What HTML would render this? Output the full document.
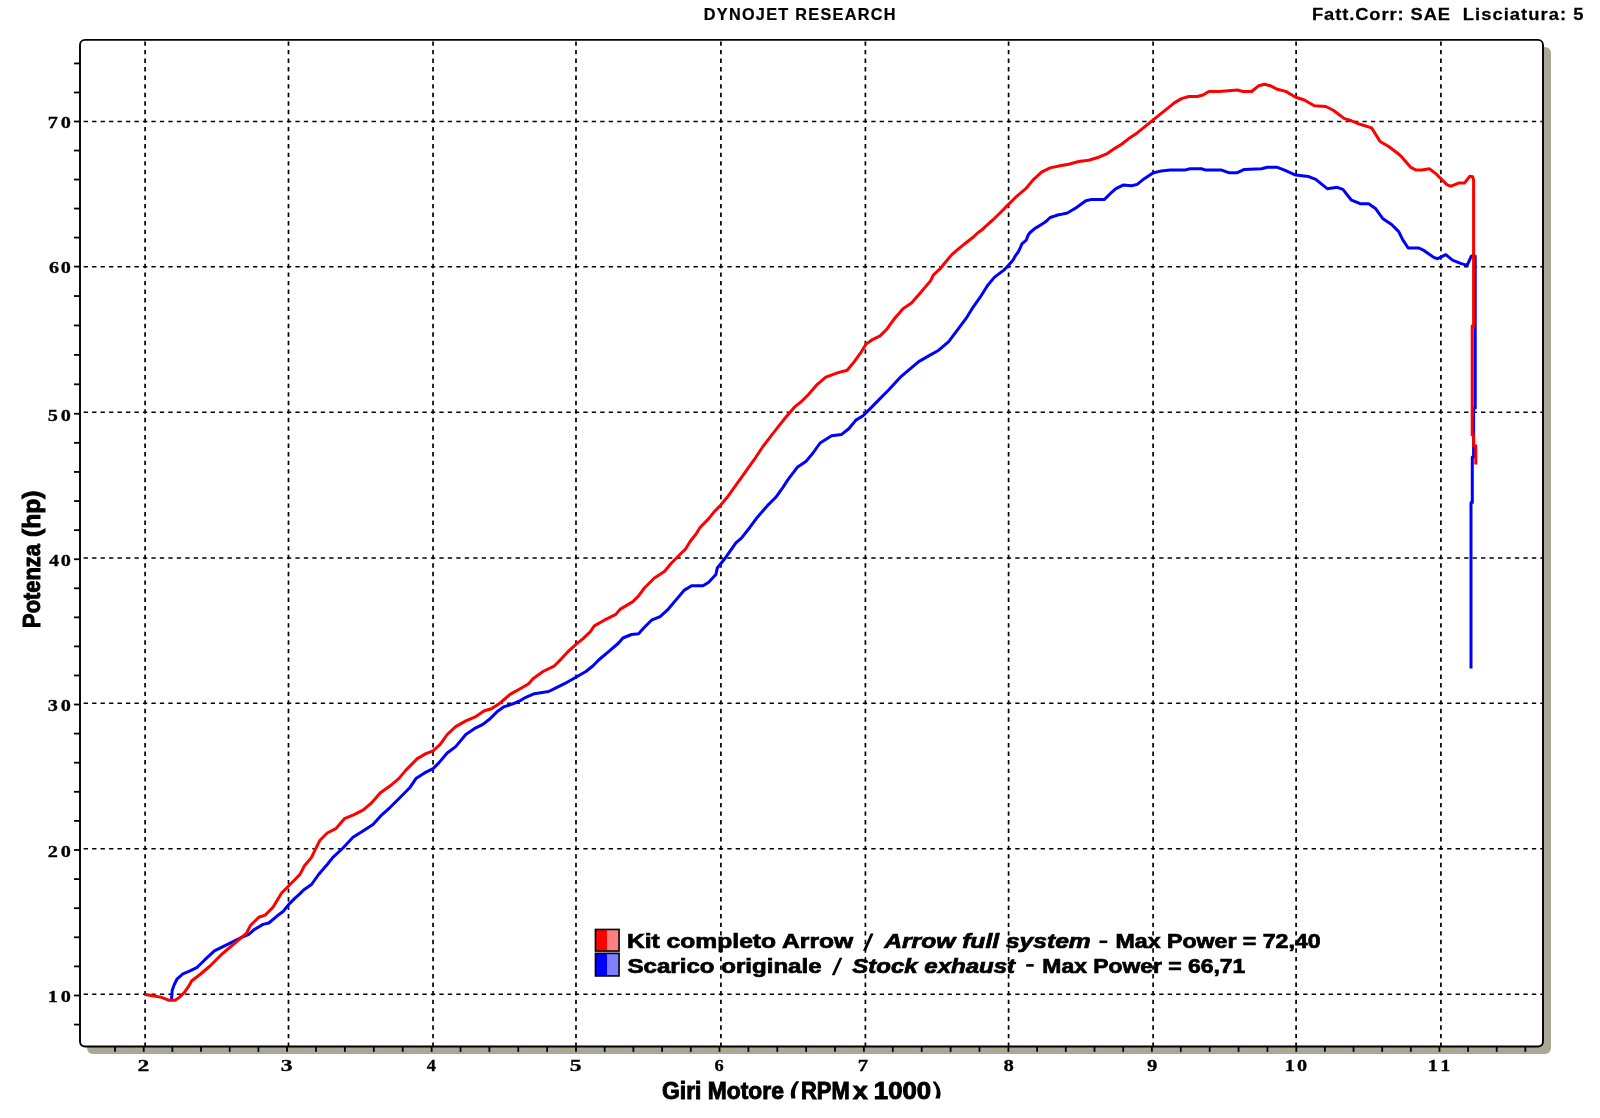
<!DOCTYPE html>
<html><head><meta charset="utf-8"><title>Dynojet chart</title>
<style>
html,body{margin:0;padding:0;background:#fff;}
body{width:1600px;height:1118px;overflow:hidden;font-family:"Liberation Sans",sans-serif;}
svg{display:block;will-change:transform;}
</style></head>
<body>
<svg width="1600" height="1118" viewBox="0 0 1600 1118">
<rect x="87" y="47" width="1464" height="1007" rx="6" fill="#aaa796"/>
<rect x="80" y="39.9" width="1463" height="1006.6" rx="5" fill="#fff"/>
<g stroke="#000" stroke-width="1.7" stroke-dasharray="4.4 4.156"><line x1="145.10" y1="41.40" x2="145.10" y2="1046" /><line x1="288.50" y1="41.40" x2="288.50" y2="1046" /><line x1="433.05" y1="41.40" x2="433.05" y2="1046" /><line x1="576.00" y1="41.40" x2="576.00" y2="1046" /><line x1="720.90" y1="41.40" x2="720.90" y2="1046" /><line x1="865.40" y1="41.40" x2="865.40" y2="1046" /><line x1="1008.60" y1="41.40" x2="1008.60" y2="1046" /><line x1="1153.10" y1="41.40" x2="1153.10" y2="1046" /><line x1="1296.10" y1="41.40" x2="1296.10" y2="1046" /><line x1="1440.90" y1="41.40" x2="1440.90" y2="1046" /></g>
<g stroke="#000" stroke-width="1.6" stroke-dasharray="4.3 4.169"><line x1="83.66" y1="994.20" x2="1542" y2="994.20" /><line x1="83.66" y1="848.75" x2="1542" y2="848.75" /><line x1="83.66" y1="703.25" x2="1542" y2="703.25" /><line x1="83.66" y1="558.00" x2="1542" y2="558.00" /><line x1="83.66" y1="412.30" x2="1542" y2="412.30" /><line x1="83.66" y1="266.70" x2="1542" y2="266.70" /><line x1="83.66" y1="121.50" x2="1542" y2="121.50" /></g>
<rect x="80" y="39.9" width="1463" height="1006.6" rx="5" fill="none" stroke="#000" stroke-width="1.9"/>
<g stroke="#000" stroke-width="1.8"><line x1="74" y1="1024.60" x2="80" y2="1024.60"/><line x1="74" y1="995.50" x2="80" y2="995.50"/><line x1="74" y1="966.40" x2="80" y2="966.40"/><line x1="74" y1="937.30" x2="80" y2="937.30"/><line x1="74" y1="908.20" x2="80" y2="908.20"/><line x1="74" y1="879.10" x2="80" y2="879.10"/><line x1="74" y1="850.00" x2="80" y2="850.00"/><line x1="74" y1="820.90" x2="80" y2="820.90"/><line x1="74" y1="791.80" x2="80" y2="791.80"/><line x1="74" y1="762.70" x2="80" y2="762.70"/><line x1="74" y1="733.60" x2="80" y2="733.60"/><line x1="74" y1="704.50" x2="80" y2="704.50"/><line x1="74" y1="675.45" x2="80" y2="675.45"/><line x1="74" y1="646.40" x2="80" y2="646.40"/><line x1="74" y1="617.35" x2="80" y2="617.35"/><line x1="74" y1="588.30" x2="80" y2="588.30"/><line x1="74" y1="559.25" x2="80" y2="559.25"/><line x1="74" y1="530.15" x2="80" y2="530.15"/><line x1="74" y1="501.05" x2="80" y2="501.05"/><line x1="74" y1="471.95" x2="80" y2="471.95"/><line x1="74" y1="442.85" x2="80" y2="442.85"/><line x1="74" y1="413.75" x2="80" y2="413.75"/><line x1="74" y1="384.32" x2="80" y2="384.32"/><line x1="74" y1="354.89" x2="80" y2="354.89"/><line x1="74" y1="325.46" x2="80" y2="325.46"/><line x1="74" y1="296.03" x2="80" y2="296.03"/><line x1="74" y1="266.60" x2="80" y2="266.60"/><line x1="74" y1="237.58" x2="80" y2="237.58"/><line x1="74" y1="208.56" x2="80" y2="208.56"/><line x1="74" y1="179.54" x2="80" y2="179.54"/><line x1="74" y1="150.52" x2="80" y2="150.52"/><line x1="74" y1="121.50" x2="80" y2="121.50"/><line x1="74" y1="92.48" x2="80" y2="92.48"/><line x1="74" y1="63.46" x2="80" y2="63.46"/></g>
<g stroke="#000" stroke-width="1.8"><line x1="115.03" y1="1047" x2="115.03" y2="1051.8"/><line x1="143.70" y1="1047" x2="143.70" y2="1051.8"/><line x1="172.37" y1="1047" x2="172.37" y2="1051.8"/><line x1="201.04" y1="1047" x2="201.04" y2="1051.8"/><line x1="229.71" y1="1047" x2="229.71" y2="1051.8"/><line x1="258.38" y1="1047" x2="258.38" y2="1051.8"/><line x1="287.05" y1="1047" x2="287.05" y2="1051.8"/><line x1="315.97" y1="1047" x2="315.97" y2="1051.8"/><line x1="344.89" y1="1047" x2="344.89" y2="1051.8"/><line x1="373.81" y1="1047" x2="373.81" y2="1051.8"/><line x1="402.73" y1="1047" x2="402.73" y2="1051.8"/><line x1="431.65" y1="1047" x2="431.65" y2="1051.8"/><line x1="460.52" y1="1047" x2="460.52" y2="1051.8"/><line x1="489.39" y1="1047" x2="489.39" y2="1051.8"/><line x1="518.26" y1="1047" x2="518.26" y2="1051.8"/><line x1="547.13" y1="1047" x2="547.13" y2="1051.8"/><line x1="576.00" y1="1047" x2="576.00" y2="1051.8"/><line x1="604.70" y1="1047" x2="604.70" y2="1051.8"/><line x1="633.40" y1="1047" x2="633.40" y2="1051.8"/><line x1="662.10" y1="1047" x2="662.10" y2="1051.8"/><line x1="690.80" y1="1047" x2="690.80" y2="1051.8"/><line x1="719.50" y1="1047" x2="719.50" y2="1051.8"/><line x1="748.38" y1="1047" x2="748.38" y2="1051.8"/><line x1="777.26" y1="1047" x2="777.26" y2="1051.8"/><line x1="806.14" y1="1047" x2="806.14" y2="1051.8"/><line x1="835.02" y1="1047" x2="835.02" y2="1051.8"/><line x1="863.90" y1="1047" x2="863.90" y2="1051.8"/><line x1="892.80" y1="1047" x2="892.80" y2="1051.8"/><line x1="921.70" y1="1047" x2="921.70" y2="1051.8"/><line x1="950.60" y1="1047" x2="950.60" y2="1051.8"/><line x1="979.50" y1="1047" x2="979.50" y2="1051.8"/><line x1="1008.40" y1="1047" x2="1008.40" y2="1051.8"/><line x1="1037.10" y1="1047" x2="1037.10" y2="1051.8"/><line x1="1065.80" y1="1047" x2="1065.80" y2="1051.8"/><line x1="1094.50" y1="1047" x2="1094.50" y2="1051.8"/><line x1="1123.20" y1="1047" x2="1123.20" y2="1051.8"/><line x1="1151.90" y1="1047" x2="1151.90" y2="1051.8"/><line x1="1180.78" y1="1047" x2="1180.78" y2="1051.8"/><line x1="1209.66" y1="1047" x2="1209.66" y2="1051.8"/><line x1="1238.54" y1="1047" x2="1238.54" y2="1051.8"/><line x1="1267.42" y1="1047" x2="1267.42" y2="1051.8"/><line x1="1296.30" y1="1047" x2="1296.30" y2="1051.8"/><line x1="1324.93" y1="1047" x2="1324.93" y2="1051.8"/><line x1="1353.56" y1="1047" x2="1353.56" y2="1051.8"/><line x1="1382.19" y1="1047" x2="1382.19" y2="1051.8"/><line x1="1410.82" y1="1047" x2="1410.82" y2="1051.8"/><line x1="1439.45" y1="1047" x2="1439.45" y2="1051.8"/><line x1="1468.08" y1="1047" x2="1468.08" y2="1051.8"/><line x1="1496.71" y1="1047" x2="1496.71" y2="1051.8"/><line x1="1525.34" y1="1047" x2="1525.34" y2="1051.8"/></g>
<polyline points="171.5,999.5 172.2,990.2 174.3,984.5 177.2,978.8 182.9,973.8 190.0,970.9 197.2,967.3 204.4,960.2 214.4,950.9 221.5,947.3 231.6,942.3 240.2,938.0 248.7,934.4 254.5,929.4 263.0,924.4 268.8,923.0 277.3,915.8 283.1,911.5 288.8,904.4 294.5,898.6 300.0,893.6 303.6,890.0 311.5,884.5 318.6,874.5 327.2,864.5 332.9,857.4 343.0,848.0 353.0,837.3 363.0,830.9 373.0,824.4 381.6,815.1 390.2,807.3 398.8,798.7 404.5,793.0 410.2,787.2 415.9,778.6 424.5,772.9 433.1,768.6 438.8,762.9 447.2,753.0 455.7,746.6 465.8,734.5 474.3,728.7 482.9,724.4 490.1,718.7 497.2,711.6 504.4,706.6 511.5,704.4 518.7,701.5 525.8,697.3 534.4,693.7 548.7,691.5 554.5,688.7 564.5,683.7 575.9,677.2 585.9,671.5 593.1,665.8 598.6,660.0 608.6,651.6 618.6,643.0 622.9,638.0 631.5,634.5 638.6,633.8 644.4,627.3 651.5,620.2 660.1,616.6 667.3,610.2 675.8,600.1 684.4,590.1 691.6,585.8 703.0,585.8 708.7,582.3 715.9,574.4 717.3,568.0 725.9,557.2 735.9,542.9 741.6,537.9 750.0,527.2 757.2,517.4 767.2,505.9 775.8,497.3 782.9,487.3 788.7,478.7 797.3,467.3 805.8,461.6 813.0,453.0 820.1,443.0 831.6,435.8 841.6,434.4 848.8,428.7 855.9,420.1 863.1,415.8 870.2,408.6 880.0,398.6 888.6,390.0 900.1,377.4 910.1,368.8 918.7,361.6 928.7,355.9 938.7,350.2 948.7,341.6 957.3,330.1 965.9,318.7 973.0,307.3 980.2,297.2 987.4,285.8 994.3,277.4 1003.8,270.1 1008.8,265.1 1013.1,260.1 1015.0,256.3 1018.2,252.0 1020.7,246.9 1021.9,243.8 1026.3,240.1 1028.2,235.0 1030.1,232.5 1034.4,228.8 1037.6,226.9 1042.6,223.8 1046.3,221.3 1050.1,217.5 1053.9,216.3 1057.6,215.0 1060.1,214.6 1067.3,213.0 1075.8,208.0 1085.9,200.8 1091.6,199.4 1104.5,199.4 1110.2,193.7 1115.9,188.7 1123.1,185.1 1131.6,185.8 1137.2,184.4 1144.3,178.7 1152.9,173.0 1161.5,170.9 1170.1,170.1 1184.4,170.1 1190.1,168.7 1201.5,168.7 1205.8,170.1 1221.6,170.1 1228.7,172.7 1237.3,172.7 1244.4,169.4 1261.6,168.7 1267.3,167.3 1277.4,167.3 1284.5,170.1 1295.7,175.1 1308.6,176.6 1315.8,179.4 1327.2,188.7 1337.2,187.3 1342.9,189.4 1351.5,200.2 1360.1,203.7 1368.7,203.7 1375.8,208.8 1383.0,218.8 1391.6,224.5 1398.7,231.6 1402.8,239.9 1408.2,248.0 1418.9,248.0 1424.3,250.7 1433.7,257.4 1437.7,258.7 1445.8,254.7 1452.5,260.1 1460.5,263.4 1467.2,265.4 1471.3,256.0 1475.2,256.0 1475.2,408.0 1473.6,408.0 1473.6,457.0 1472.3,457.0 1472.3,502.5 1471.0,502.5 1471.0,668.6" fill="none" stroke="#0000ff" stroke-width="3" stroke-linejoin="round"/>
<polyline points="145.0,994.5 154.3,996.0 161.5,997.4 168.6,1000.2 175.0,1000.2 179.3,997.4 184.4,992.4 189.4,985.2 191.5,981.0 200.0,974.5 210.0,966.0 221.5,954.5 231.6,945.9 240.2,938.7 246.6,933.0 250.2,925.8 258.8,917.2 265.2,915.1 273.0,907.2 281.6,893.0 288.8,885.8 293.8,880.8 300.0,874.4 304.3,866.0 311.5,857.4 315.0,850.2 320.0,840.2 327.2,833.0 335.8,828.7 344.4,818.7 353.0,815.1 363.0,810.1 371.5,803.0 380.1,793.0 390.2,785.8 398.8,778.6 405.9,770.1 417.3,758.6 425.9,753.6 433.1,750.8 440.2,744.3 447.2,734.5 455.7,726.6 465.8,720.9 475.8,716.6 484.4,710.8 491.5,708.7 500.1,703.0 510.1,694.4 520.1,688.7 528.7,683.7 533.0,678.7 543.0,671.5 554.5,665.8 561.6,658.6 568.8,650.8 576.0,644.3 583.1,638.6 590.2,631.8 594.3,625.9 604.3,620.2 615.8,614.4 620.0,609.4 632.9,601.6 638.6,595.9 644.4,588.0 654.4,578.0 664.4,571.5 671.5,563.0 678.7,555.8 685.9,548.6 690.1,541.5 695.9,534.3 700.2,527.2 708.7,518.6 714.5,511.4 720.0,505.9 727.2,497.3 734.3,487.3 741.5,477.3 748.6,467.3 755.8,457.3 762.9,446.5 770.1,437.2 777.9,427.2 785.8,417.2 794.4,407.2 801.5,401.5 808.7,394.3 817.3,384.3 825.9,377.2 837.3,372.9 847.2,370.2 854.3,361.6 861.5,351.6 865.8,344.4 871.5,340.2 880.1,335.9 887.2,328.7 894.4,318.7 903.0,308.7 911.5,303.0 921.5,291.5 930.7,280.6 933.3,275.2 940.5,268.3 945.4,262.2 951.6,254.9 956.1,250.9 964.2,244.2 974.0,236.5 977.6,233.0 982.0,229.8 985.6,226.3 992.8,220.0 1000.0,213.0 1008.6,204.4 1017.2,195.8 1025.8,188.7 1032.9,180.1 1041.5,172.2 1050.1,167.9 1060.1,165.8 1068.7,164.3 1078.7,161.5 1088.7,160.3 1098.7,157.2 1107.3,153.6 1114.5,148.6 1121.6,144.3 1128.8,138.6 1137.2,132.9 1144.3,127.2 1152.9,120.1 1160.0,114.3 1167.2,108.6 1174.3,102.9 1181.5,98.6 1188.7,96.5 1197.2,96.5 1203.0,95.0 1208.7,91.5 1218.7,91.5 1228.7,90.7 1237.3,90.0 1243.0,91.5 1251.6,91.5 1258.8,85.7 1264.5,84.3 1270.2,85.7 1277.4,89.3 1285.7,91.4 1295.7,97.2 1304.3,100.0 1314.3,105.8 1325.8,106.5 1332.9,110.0 1344.4,118.6 1351.5,120.8 1360.1,124.3 1371.6,127.9 1380.1,141.5 1388.7,146.5 1397.3,153.0 1401.5,156.7 1410.9,167.4 1416.2,170.1 1421.6,170.1 1429.7,168.8 1436.4,174.2 1447.1,184.9 1451.1,186.2 1459.2,182.9 1464.6,182.9 1469.9,176.2 1472.6,176.8 1473.6,180.0 1473.6,325.7 1472.2,325.7 1472.2,435.0 1473.6,435.0 1473.6,445.8 1475.8,445.8 1475.8,464.6" fill="none" stroke="#ff0000" stroke-width="3" stroke-linejoin="round"/>
<rect x="595.5" y="929.5" width="11.5" height="21.6" fill="#ff0000"/><rect x="607" y="929.5" width="12" height="21.6" fill="#ff8080"/>
<rect x="595.45" y="929.45" width="23.6" height="21.6" fill="none" stroke="#000" stroke-width="1.6"/>
<rect x="595.5" y="953.4" width="11.5" height="22.5" fill="#0000ff"/><rect x="607" y="953.4" width="12" height="22.5" fill="#8080ff"/>
<rect x="595.45" y="953.35" width="23.6" height="22.6" fill="none" stroke="#000" stroke-width="1.6"/>
<path d="M796.2,1081.3 L799.2,1081.3 Q793.2,1090 795.5,1098.6 L791.3,1098.6 Q788.8,1089.5 796.2,1081.3 Z" fill="#000"/>
<path d="M932.4,1081.4 L935.6,1081.4 Q942.6,1090 939.9,1098.6 L935.4,1098.6 Q939.4,1090 932.4,1081.4 Z" fill="#000"/>
<polygon points="870.6,933.4 873.6,933.4 866,950.8 863,950.8" fill="#000"/>
<polygon points="839.6,957.7 842.4,957.7 834.6,975.2 831.7,975.2" fill="#000"/>
<rect x="1099.5" y="940.5" width="7.8" height="2.6" fill="#000"/>
<rect x="1026.2" y="964.1" width="7.5" height="2.6" fill="#000"/>
<g fill="#000"><text transform="translate(703.76,20.30) scale(0.94,1)" x="0" y="0" font-family="Liberation Sans, sans-serif" font-weight="bold" font-size="17.3" stroke="#000" stroke-width="0.25" letter-spacing="1.370" xml:space="preserve">DYNOJET RESEARCH</text>
<text transform="translate(1311.94,20.30) scale(1.06,1)" x="0" y="0" font-family="Liberation Sans, sans-serif" font-weight="bold" font-size="17.3" stroke="#000" stroke-width="0.25" letter-spacing="0.865" xml:space="preserve">Fatt.Corr: SAE</text>
<text transform="translate(1462.84,20.30) scale(1.06,1)" x="0" y="0" font-family="Liberation Sans, sans-serif" font-weight="bold" font-size="17.3" stroke="#000" stroke-width="0.25" letter-spacing="0.994" xml:space="preserve">Lisciatura: 5</text>
<text x="626.94" y="948.10" font-family="Liberation Sans, sans-serif" font-weight="bold" font-size="19.6" stroke="#000" stroke-width="0.7" textLength="226.24" lengthAdjust="spacingAndGlyphs" xml:space="preserve">Kit completo Arrow</text>
<text x="884.26" y="948.10" font-family="Liberation Sans, sans-serif" font-weight="bold" font-style="italic" font-size="19.6" stroke="#000" stroke-width="0.7" textLength="206.47" lengthAdjust="spacingAndGlyphs" xml:space="preserve">Arrow full system</text>
<text x="1115.52" y="948.10" font-family="Liberation Sans, sans-serif" font-weight="bold" font-size="19.6" stroke="#000" stroke-width="0.7" textLength="205.15" lengthAdjust="spacingAndGlyphs" xml:space="preserve">Max Power = 72,40</text>
<text x="627.50" y="972.80" font-family="Liberation Sans, sans-serif" font-weight="bold" font-size="19.6" stroke="#000" stroke-width="0.7" textLength="194.08" lengthAdjust="spacingAndGlyphs" xml:space="preserve">Scarico originale</text>
<text x="852.20" y="972.80" font-family="Liberation Sans, sans-serif" font-weight="bold" font-style="italic" font-size="19.6" stroke="#000" stroke-width="0.7" textLength="162.90" lengthAdjust="spacingAndGlyphs" xml:space="preserve">Stock exhaust</text>
<text x="1042.33" y="972.80" font-family="Liberation Sans, sans-serif" font-weight="bold" font-size="19.6" stroke="#000" stroke-width="0.7" textLength="202.96" lengthAdjust="spacingAndGlyphs" xml:space="preserve">Max Power = 66,71</text>
<text x="662.08" y="1099.00" font-family="Liberation Sans, sans-serif" font-weight="bold" font-size="24.7" stroke="#000" stroke-width="1.0" textLength="121.75" lengthAdjust="spacingAndGlyphs" xml:space="preserve">Giri Motore</text>
<text x="801.01" y="1099.00" font-family="Liberation Sans, sans-serif" font-weight="bold" font-size="24.7" stroke="#000" stroke-width="1.0" textLength="48.66" lengthAdjust="spacingAndGlyphs" xml:space="preserve">RPM</text>
<text x="853.10" y="1099.00" font-family="Liberation Sans, sans-serif" font-weight="bold" font-size="24.7" stroke="#000" stroke-width="1.0" textLength="14.62" lengthAdjust="spacingAndGlyphs" xml:space="preserve">x</text>
<text x="873.86" y="1099.00" font-family="Liberation Sans, sans-serif" font-weight="bold" font-size="24.7" stroke="#000" stroke-width="1.0" textLength="57.16" lengthAdjust="spacingAndGlyphs" xml:space="preserve">1000</text>
<text transform="translate(40.4,627) rotate(-90)" x="-0.89" y="0" font-family="Liberation Sans, sans-serif" font-weight="bold" font-size="24.6" stroke="#000" stroke-width="1.0" textLength="83.66" lengthAdjust="spacingAndGlyphs" xml:space="preserve">Potenza</text>
<text transform="translate(40.4,627) rotate(-90)" x="90.00" y="0" font-family="Liberation Sans, sans-serif" font-weight="bold" font-size="24.6" stroke="#000" stroke-width="1.0" textLength="46.44" lengthAdjust="spacingAndGlyphs" xml:space="preserve">(hp)</text>
<text transform="translate(47.75,1002.35) scale(1.15,1)" x="0" y="0" font-family="Liberation Serif, serif" font-weight="bold" font-size="17.6" stroke="#000" stroke-width="0.3" letter-spacing="2.435" xml:space="preserve">10</text>
<text transform="translate(47.75,856.85) scale(1.15,1)" x="0" y="0" font-family="Liberation Serif, serif" font-weight="bold" font-size="17.6" stroke="#000" stroke-width="0.3" letter-spacing="2.435" xml:space="preserve">20</text>
<text transform="translate(47.75,711.35) scale(1.15,1)" x="0" y="0" font-family="Liberation Serif, serif" font-weight="bold" font-size="17.6" stroke="#000" stroke-width="0.3" letter-spacing="2.435" xml:space="preserve">30</text>
<text transform="translate(48.90,566.10) scale(1.15,1)" x="0" y="0" font-family="Liberation Serif, serif" font-weight="bold" font-size="17.6" stroke="#000" stroke-width="0.3" letter-spacing="1.435" xml:space="preserve">40</text>
<text transform="translate(47.75,420.60) scale(1.15,1)" x="0" y="0" font-family="Liberation Serif, serif" font-weight="bold" font-size="17.6" stroke="#000" stroke-width="0.3" letter-spacing="2.435" xml:space="preserve">50</text>
<text transform="translate(48.90,273.45) scale(1.15,1)" x="0" y="0" font-family="Liberation Serif, serif" font-weight="bold" font-size="17.6" stroke="#000" stroke-width="0.3" letter-spacing="1.435" xml:space="preserve">60</text>
<text transform="translate(47.75,128.35) scale(1.15,1)" x="0" y="0" font-family="Liberation Serif, serif" font-weight="bold" font-size="17.6" stroke="#000" stroke-width="0.3" letter-spacing="2.435" xml:space="preserve">70</text>
<text x="137.46" y="1070.80" font-family="Liberation Serif, serif" font-weight="bold" font-size="17.6" stroke="#000" stroke-width="0.3" textLength="11.81" lengthAdjust="spacingAndGlyphs" xml:space="preserve">2</text>
<text x="280.81" y="1070.80" font-family="Liberation Serif, serif" font-weight="bold" font-size="17.6" stroke="#000" stroke-width="0.3" textLength="11.81" lengthAdjust="spacingAndGlyphs" xml:space="preserve">3</text>
<text x="426.75" y="1070.80" font-family="Liberation Serif, serif" font-weight="bold" font-size="17.6" stroke="#000" stroke-width="0.3" textLength="9.19" lengthAdjust="spacingAndGlyphs" xml:space="preserve">4</text>
<text x="569.76" y="1070.80" font-family="Liberation Serif, serif" font-weight="bold" font-size="17.6" stroke="#000" stroke-width="0.3" textLength="11.81" lengthAdjust="spacingAndGlyphs" xml:space="preserve">5</text>
<text x="714.60" y="1070.80" font-family="Liberation Serif, serif" font-weight="bold" font-size="17.6" stroke="#000" stroke-width="0.3" textLength="9.19" lengthAdjust="spacingAndGlyphs" xml:space="preserve">6</text>
<text x="857.82" y="1070.80" font-family="Liberation Serif, serif" font-weight="bold" font-size="17.6" stroke="#000" stroke-width="0.3" textLength="10.34" lengthAdjust="spacingAndGlyphs" xml:space="preserve">7</text>
<text x="1003.50" y="1070.80" font-family="Liberation Serif, serif" font-weight="bold" font-size="17.6" stroke="#000" stroke-width="0.3" textLength="10.34" lengthAdjust="spacingAndGlyphs" xml:space="preserve">8</text>
<text x="1147.00" y="1070.80" font-family="Liberation Serif, serif" font-weight="bold" font-size="17.6" stroke="#000" stroke-width="0.3" textLength="10.34" lengthAdjust="spacingAndGlyphs" xml:space="preserve">9</text>
<text transform="translate(1284.65,1070.80) scale(1.15,1)" x="0" y="0" font-family="Liberation Serif, serif" font-weight="bold" font-size="17.6" stroke="#000" stroke-width="0.3" letter-spacing="1.913" xml:space="preserve">10</text>
<text transform="translate(1427.80,1070.80) scale(1.15,1)" x="0" y="0" font-family="Liberation Serif, serif" font-weight="bold" font-size="17.6" stroke="#000" stroke-width="0.3" letter-spacing="2.913" xml:space="preserve">11</text></g>
</svg>
</body></html>
